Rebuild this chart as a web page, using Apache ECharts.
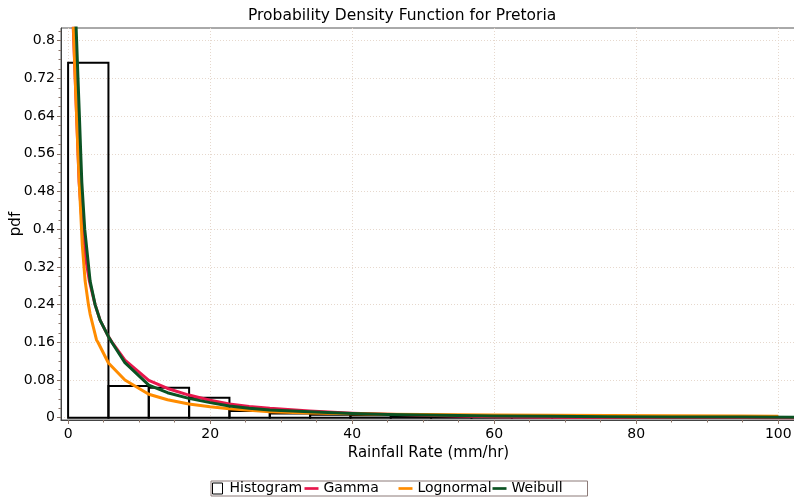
<!DOCTYPE html>
<html>
<head>
<meta charset="utf-8">
<script src="https://cdn.jsdelivr.net/npm/echarts@6/dist/echarts.min.js"></script>
<style>
  html, body { margin: 0; padding: 0; background: #fff; }
  #chart { width: 794px; height: 497px; }
</style>
</head>
<body>
<div id="chart"></div>
<script>
// Histogram bins (mm/hr) and their densities
const binEdges = [0, 5.68, 11.36, 17.04, 22.72, 28.4, 34.08, 39.76, 45.44, 51.12, 56.8, 62.48, 68.16, 73.84, 79.52, 85.2, 90.88, 96.56, 102.24];
const binHeights = [0.753, 0.0673, 0.0637, 0.0424, 0.014, 0.009, 0.0065, 0.005, 0.004, 0.003, 0.0022, 0.0016, 0.0012, 0.001, 0.0008, 0.0006, 0.0005, 0.0004];

// Fitted densities
const gammaX = [0.72, 1.0, 1.2, 1.4, 1.55, 2.0, 2.5, 3.0, 3.8, 4.5, 5.68, 6.15, 8, 11.36, 14, 17, 20, 22.7, 25.5, 28.4, 34, 40, 45, 50, 55, 60, 68, 76, 85, 95, 102.5];
const gammaY = [0.83, 0.72, 0.64, 0.56, 0.50, 0.405, 0.335, 0.29, 0.24, 0.207, 0.172, 0.161, 0.122, 0.079, 0.062, 0.048, 0.037, 0.029, 0.024, 0.020, 0.0142, 0.0095, 0.0072, 0.005, 0.0035, 0.002, 0.001, 0.0005, 0.0003, 0.0002, 0.0001];

const lognormalX = [0.75, 1.0, 1.2, 1.4, 1.57, 2.0, 2.4, 2.86, 3.1, 4.0, 4.2, 5.68, 8, 11.36, 14, 17, 20, 22.7, 28.4, 34, 40, 45, 50, 55, 60, 68, 76, 85, 95, 100];
const lognormalY = [0.83, 0.72, 0.64, 0.56, 0.50, 0.366, 0.29, 0.24, 0.22, 0.165, 0.16, 0.116, 0.08, 0.0497, 0.038, 0.029, 0.023, 0.019, 0.0127, 0.0100, 0.0085, 0.0075, 0.0068, 0.0062, 0.0057, 0.005, 0.0045, 0.004, 0.0035, 0.0033];

const weibullX = [1.0, 1.13, 1.2, 1.39, 1.59, 1.78, 1.93, 2.34, 3.1, 3.8, 4.5, 5.68, 6.15, 8, 11.36, 14, 17, 20, 22.7, 25.5, 28.4, 34, 40, 45, 50, 55, 60, 68, 76, 85, 95, 102.5];
const weibullY = [0.90, 0.827, 0.80, 0.72, 0.64, 0.56, 0.50, 0.40, 0.29, 0.24, 0.207, 0.172, 0.16, 0.117, 0.069, 0.053, 0.041, 0.032, 0.025, 0.020, 0.0163, 0.0125, 0.0088, 0.0068, 0.0055, 0.0045, 0.0037, 0.0028, 0.0022, 0.0017, 0.0013, 0.0011];

// Axis ticks
const xTicks = [0, 20, 40, 60, 80, 100];
const yTicks = [0, 0.08, 0.16, 0.24, 0.32, 0.4, 0.48, 0.56, 0.64, 0.72, 0.8];

const xMinor = [];
for (let i = 1; i <= 20; i++) if (i % 4) xMinor.push(i * 5);
const yMinor = [];
for (let i = 1; i <= 41; i++) if (i % 4) yMinor.push(+(i * 0.02).toFixed(2));

const FONT = 'DejaVu Sans';
const C_GAMMA = '#e8174c', C_LOGN = '#ff8c00', C_WEIB = '#0b5323';
const GRID_LINE = { color: '#e6d8cd', type: [1, 2], width: 1 };
const TICK_COLOR = '#8a7468';

const zip = (xs, ys) => xs.map((x, i) => [x, ys[i]]);
const lineIcon = 'path://M0,0H13V2.5H0Z';

const X_MIN = -1, X_MAX = 102.5, Y_MIN = -0.0049, Y_MAX = 0.827;

const curve = (name, color, xs, ys) => ({
  name, type: 'line', xAxisIndex: 0, yAxisIndex: 0, symbol: 'none', clip: true,
  color, lineStyle: { color, width: 3, join: 'round' },
  data: zip(xs, ys)
});

const chart = echarts.init(document.getElementById('chart'), null, { renderer: 'canvas' });
chart.setOption({
  animation: false,
  backgroundColor: '#fff',
  title: {
    text: 'Probability Density Function for Pretoria',
    left: 243, top: 3,
    textStyle: { fontFamily: FONT, fontSize: 15.5, fontWeight: 'normal', color: '#000' }
  },
  grid: {
    left: 61, right: -2, top: 28, bottom: 77,
    containLabel: false, outerBoundsMode: 'none',
    show: true, borderColor: '#555', borderWidth: 1, backgroundColor: 'transparent'
  },
  legend: {
    left: 211, top: 481, orient: 'horizontal',
    itemGap: 0, itemWidth: 14, itemHeight: 11, padding: [0, 1],
    borderColor: '#8c7b78', borderWidth: 1, backgroundColor: '#fff',
    textStyle: { fontFamily: FONT, fontSize: 14, color: '#000', width: 75, lineHeight: 15 },
    data: [
      { name: 'Histogram', icon: 'path://M0,0H10V11H0Z', itemStyle: { color: '#fff', borderColor: '#000', borderWidth: 1 } },
      { name: 'Gamma', icon: lineIcon, itemStyle: { color: C_GAMMA, borderWidth: 0 } },
      { name: 'Lognormal', icon: lineIcon, itemStyle: { color: C_LOGN, borderWidth: 0 } },
      { name: 'Weibull', icon: lineIcon, itemStyle: { color: C_WEIB, borderWidth: 0 } }
    ]
  },
  xAxis: [
    {
      type: 'value', min: X_MIN, max: X_MAX, position: 'bottom',
      name: 'Rainfall Rate (mm/hr)', nameLocation: 'middle', nameGap: 26, nameMoveOverlap: false,
      nameTextStyle: { fontFamily: FONT, fontSize: 15, color: '#000' },
      axisLine: { show: true, onZero: false, lineStyle: { color: '#444', width: 1 } },
      axisTick: { show: true, customValues: xTicks, length: 4, lineStyle: { color: TICK_COLOR } },
      axisLabel: { show: true, customValues: xTicks, margin: 7, fontFamily: FONT, fontSize: 14, color: '#000' },
      splitLine: { show: true, lineStyle: GRID_LINE },
      minorTick: { show: false }
    },
    {
      type: 'value', min: X_MIN, max: X_MAX, position: 'bottom',
      axisLine: { show: false, onZero: false },
      axisTick: { show: true, customValues: xMinor, length: 2.5, lineStyle: { color: TICK_COLOR } },
      axisLabel: { show: false },
      splitLine: { show: false }
    }
  ],
  yAxis: [
    {
      type: 'value', min: Y_MIN, max: Y_MAX, position: 'left',
      name: 'pdf', nameLocation: 'middle', nameGap: 37, nameMoveOverlap: false,
      nameTextStyle: { fontFamily: FONT, fontSize: 15, color: '#000' },
      axisLine: { show: true, onZero: false, lineStyle: { color: '#444', width: 1 } },
      axisTick: { show: true, customValues: yTicks, length: 4, lineStyle: { color: TICK_COLOR } },
      axisLabel: { show: true, customValues: yTicks, margin: 6, fontFamily: FONT, fontSize: 14, color: '#000' },
      splitLine: { show: true, lineStyle: GRID_LINE }
    },
    {
      type: 'value', min: Y_MIN, max: Y_MAX, position: 'left',
      axisLine: { show: false, onZero: false },
      axisTick: { show: true, customValues: yMinor, length: 2.5, lineStyle: { color: TICK_COLOR } },
      axisLabel: { show: false },
      splitLine: { show: false }
    }
  ],
  series: [
    {
      name: 'Histogram', type: 'custom', xAxisIndex: 0, yAxisIndex: 0, clip: true,
      itemStyle: { color: '#fff', borderColor: '#000' },
      encode: { x: [0, 1], y: 2 },
      data: binHeights.map((h, i) => [binEdges[i], binEdges[i + 1], h]),
      renderItem: function (params, api) {
        const p0 = api.coord([api.value(0), api.value(2)]);
        const p1 = api.coord([api.value(1), 0]);
        return {
          type: 'rect',
          shape: { x: p0[0], y: p0[1], width: p1[0] - p0[0], height: p1[1] - p0[1] },
          style: { fill: 'none', stroke: '#000', lineWidth: 2 }
        };
      }
    },
    curve('Gamma', C_GAMMA, gammaX, gammaY),
    curve('Lognormal', C_LOGN, lognormalX, lognormalY),
    curve('Weibull', C_WEIB, weibullX, weibullY)
  ]
});
</script>
</body>
</html>
